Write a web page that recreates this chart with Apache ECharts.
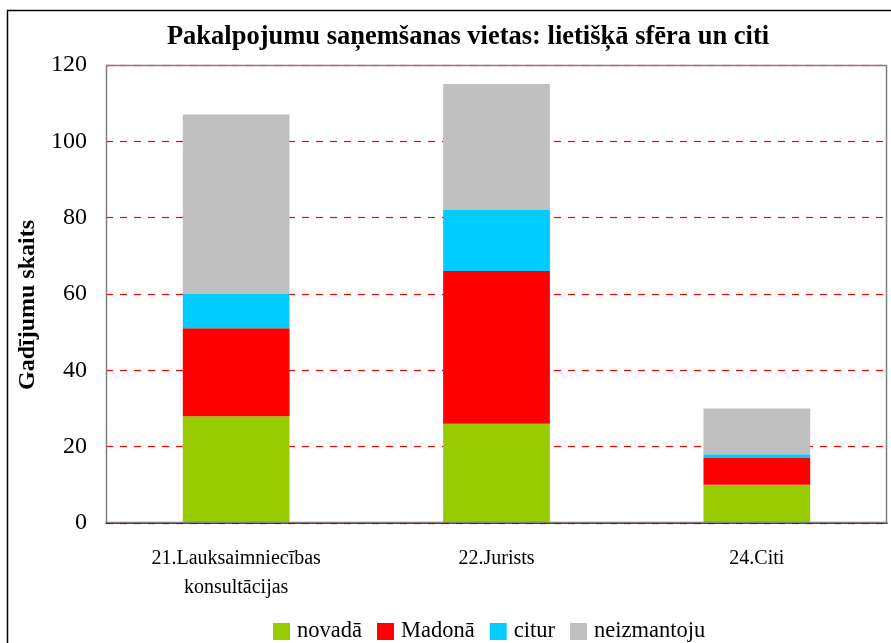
<!DOCTYPE html>
<html>
<head>
<meta charset="utf-8">
<script src="https://cdn.jsdelivr.net/npm/echarts@6/dist/echarts.min.js"></script>
<style>html,body{margin:0;padding:0;background:#fff;}#c{width:891px;height:643px;}</style>
</head>
<body>
<div id="c"></div>
<script>
const categories = ['21.Lauksaimniecības\nkonsultācijas', '22.Jurists', '24.Citi'];
const seriesNames = ['novadā', 'Madonā', 'citur', 'neizmantoju'];
const novada = [28, 26, 10];
const madona = [23, 40, 7];
const citur = [9, 16, 1];
const neizmantoju = [47, 33, 12];
const yTicks = [0, 20, 40, 60, 80, 100, 120];
const colors = ['#99CC00', '#FF0000', '#00CCFF', '#C0C0C0'];

const dataSets = [novada, madona, citur, neizmantoju];
const font = '"Liberation Serif", "Times New Roman", serif';
const chart = echarts.init(document.getElementById('c'));
chart.setOption({
  animation: false,
  backgroundColor: '#fff',
  textStyle: { fontFamily: font },
  title: {
    text: 'Pakalpojumu saņemšanas vietas: lietišķā sfēra un citi',
    left: 463, top: 19, textAlign: 'center',
    textStyle: { fontFamily: font, fontWeight: 'bold', fontSize: 26.5, color: '#000' }
  },
  graphic: [
    { type: 'rect', shape: { x: 7.5, y: 10.5, width: 900, height: 700 }, style: { fill: 'none', stroke: '#000', lineWidth: 1.5 }, silent: true },
    { type: 'rect', shape: { x: 106.5, y: 65.5, width: 780, height: 457 }, style: { fill: 'none', stroke: '#808080', lineWidth: 1.5 }, silent: true, z: 10 },
    { type: 'text', x: 28, y: 305, rotation: Math.PI / 2, silent: true,
      style: { text: 'Gadījumu skaits', fontFamily: font, fontWeight: 'bold', fontSize: 24, fill: '#000', textAlign: 'center', textVerticalAlign: 'middle' } }
  ],
  legend: {
    left: 268, top: 615,
    itemWidth: 17, itemHeight: 17, itemGap: 15,
    icon: 'rect',
    textStyle: { fontFamily: font, fontSize: 22.5, color: '#000', padding: [0, 0, 0, 2] },
    data: seriesNames
  },
  grid: { left: 106, right: 4, top: 65, bottom: 120, containLabel: false },
  xAxis: {
    type: 'category', data: categories,
    axisLine: { show: true, lineStyle: { color: '#000', width: 1.5 } },
    axisTick: { show: false },
    axisLabel: { fontFamily: font, fontSize: 20, color: '#000', margin: 21, lineHeight: 29 }
  },
  yAxis: {
    type: 'value', min: 0, max: 120, interval: 20,
    axisLine: { show: false },
    axisTick: { show: false },
    axisLabel: {
      fontFamily: font, fontSize: 24, color: '#000', margin: 19,
      formatter: v => yTicks.includes(v) ? String(v) : ''
    },
    splitLine: {
      show: true,
      lineStyle: { color: 'rgb(255,0,0)', type: [7, 7], width: 1.2, opacity: 1 }
    }
  },
  series: seriesNames.map((n, i) => ({
    name: n, type: 'bar', stack: 'total', data: dataSets[i],
    barWidth: '41%',
    itemStyle: { color: colors[i] }
  }))
});
</script>
</body>
</html>
